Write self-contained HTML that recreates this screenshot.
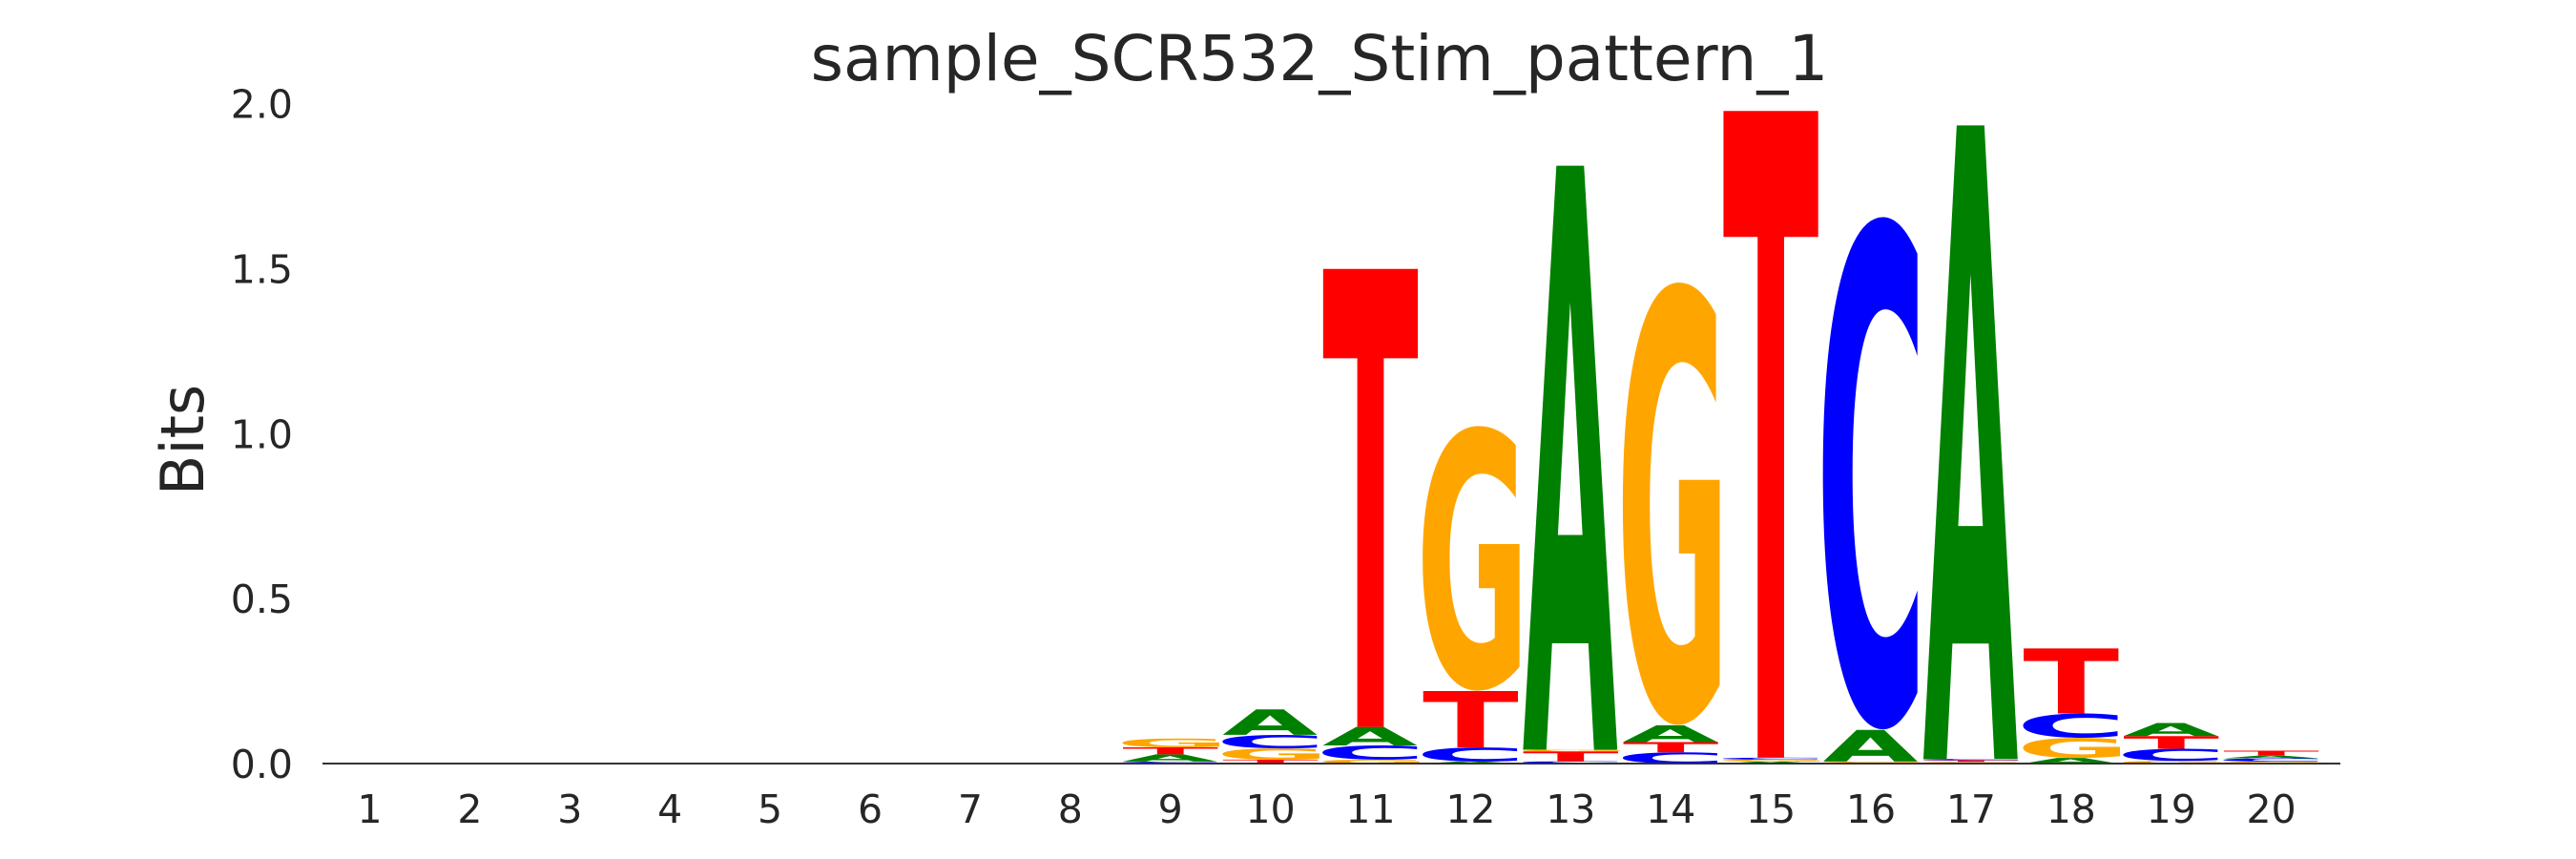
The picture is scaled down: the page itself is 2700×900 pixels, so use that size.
<!DOCTYPE html>
<html><head><meta charset="utf-8"><style>
html,body{margin:0;padding:0;background:#fff;overflow:hidden;width:2700px;height:900px;}
svg{display:block;font-family:"DejaVu Sans","Liberation Sans",sans-serif;}
</style></head><body>
<svg id="chart" width="2700" height="900" viewBox="0 0 2700 900">
<text x="1383" y="84" font-size="66" fill="#262626" text-anchor="middle">sample_SCR532_Stim_pattern_1</text>
<text transform="translate(213,461) rotate(-90)" font-size="62" fill="#262626" text-anchor="middle">Bits</text>
<g id="yticks"></g>
<g id="xticks"></g>
<g id="letters"></g>
<line x1="338" x2="2453" y1="800" y2="800" stroke="#333" stroke-width="2"/>
</svg>
<script>
const positions = [1,2,3,4,5,6,7,8,9,10,11,12,13,14,15,16,17,18,19,20];
const yTicks = [0.0, 0.5, 1.0, 1.5, 2.0];
const yTickLabels = ["0.0","0.5","1.0","1.5","2.0"];
// stacks bottom -> top: [letter, bits]
const stack1 = [], stack2 = [], stack3 = [], stack4 = [], stack5 = [], stack6 = [], stack7 = [], stack8 = [];
const stack9 = [["C",0.006],["A",0.022],["T",0.021],["G",0.027]];
const stack10 = [["T",0.012],["G",0.034],["C",0.041],["A",0.077]];
const stack11 = [["G",0.012],["C",0.043],["A",0.056],["T",1.388]];
const stack12 = [["A",0.006],["C",0.043],["T",0.171],["G",0.806]];
const stack13 = [["C",0.007],["T",0.03],["G",0.005],["A",1.77]];
const stack14 = [["C",0.034],["T",0.031],["A",0.051],["G",1.347]];
const stack15 = [["A",0.006],["G",0.006],["C",0.006],["T",1.96]];
const stack16 = [["T",0.003],["G",0.003],["A",0.096],["C",1.56]];
const stack17 = [["G",0.005],["T",0.005],["C",0.004],["A",1.92]];
const stack18 = [["A",0.017],["G",0.061],["C",0.074],["T",0.197]];
const stack19 = [["G",0.008],["C",0.037],["T",0.038],["A",0.040]];
const stack20 = [["G",0.006],["C",0.010],["A",0.008],["T",0.015]];
const stacks = [stack1,stack2,stack3,stack4,stack5,stack6,stack7,stack8,stack9,stack10,stack11,stack12,stack13,stack14,stack15,stack16,stack17,stack18,stack19,stack20];

const NS = "http://www.w3.org/2000/svg";
const yScale = v => 800 - v * 345.7;
const xScale = p => 387.5 + (p - 1) * 104.9;
const colors = {A:"#008000", C:"#0000ff", G:"#ffa500", T:"#ff0000"};
const metrics = {A:{lsb:.008,ink:.766,h:.729,os:0}, C:{lsb:.055,ink:.62,h:.76,os:.015}, G:{lsb:.055,ink:.68,h:.76,os:.015}, T:{lsb:.006,ink:.67,h:.729,os:0}};

const yg = document.getElementById('yticks');
yTicks.forEach((v,i) => {
  const t = document.createElementNS(NS,'text');
  
  
  t.setAttribute('x', 307); t.setAttribute('y', yScale(v) + 15);
  t.setAttribute('font-size', 41); t.setAttribute('fill', '#262626');
  t.setAttribute('text-anchor', 'end');
  t.textContent = yTickLabels[i];
  yg.appendChild(t);
});
const xg = document.getElementById('xticks');
positions.forEach(p => {
  const t = document.createElementNS(NS,'text');
  
  
  t.setAttribute('x', xScale(p)); t.setAttribute('y', 862);
  t.setAttribute('font-size', 41); t.setAttribute('fill', '#262626');
  t.setAttribute('text-anchor', 'middle');
  t.textContent = String(p);
  xg.appendChild(t);
});
const lg = document.getElementById('letters');
const W = 99, F = 100;
stacks.forEach((st, i) => {
  const cx = xScale(positions[i]);
  let acc = 0;
  st.forEach(([L, bits]) => {
    const yb = yScale(acc), yt = yScale(acc + bits);
    acc += bits;
    const h = yb - yt;
    if (h <= 0) return;
    const m = metrics[L];
    const sx = W / (m.ink * F), sy = h / (m.h * F);
    const x0 = cx - W/2 - m.lsb * F * sx;
    const y0 = yb - m.os * F * sy;
    const t = document.createElementNS(NS,'text');
    
    
    t.setAttribute('transform', `translate(${x0},${y0}) scale(${sx},${sy})`);
    t.setAttribute('font-size', F);
    t.setAttribute('font-weight', 'bold');
    t.setAttribute('fill', colors[L]);
    t.textContent = L;
    lg.appendChild(t);
  });
});
</script>
</body></html>
